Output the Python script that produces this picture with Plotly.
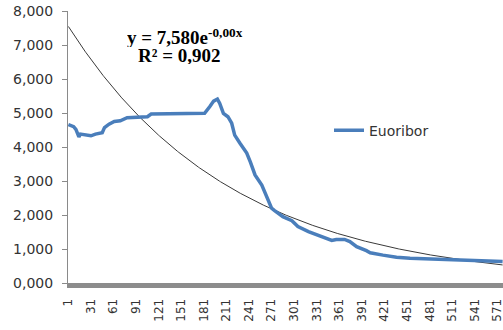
import numpy as np
import plotly.graph_objects as go

# Euribor series (observation number, rate in %)
days = [1, 8, 11, 13, 15, 17, 20, 26, 31, 37, 46, 49, 55, 62, 70, 79, 92, 106, 111, 128,
        152, 182, 189, 194, 199, 202, 207, 213, 218, 222, 229, 238, 243, 249, 258, 265,
        271, 275, 286, 298, 306, 320, 333, 344, 351, 357, 368, 375, 384, 397, 402, 419,
        437, 455, 477, 499, 521, 543, 565, 578]
euribor = [4.66, 4.60, 4.52, 4.42, 4.30, 4.38, 4.37, 4.35, 4.33, 4.38, 4.42, 4.57, 4.67,
           4.75, 4.77, 4.86, 4.88, 4.89, 4.97, 4.98, 4.99, 4.99, 5.19, 5.35, 5.41, 5.29,
           4.99, 4.89, 4.70, 4.35, 4.11, 3.82, 3.55, 3.18, 2.88, 2.49, 2.20, 2.13, 1.95,
           1.83, 1.66, 1.51, 1.41, 1.31, 1.25, 1.28, 1.28, 1.22, 1.07, 0.95, 0.89, 0.82,
           0.76, 0.73, 0.71, 0.70, 0.68, 0.66, 0.65, 0.63]

# Exponential trendline parameters (y = a * e^(-b x))
trend_a = 7.58
trend_b = 0.0046
n_obs = 578

x_ticks = list(range(1, 572, 30))
y_ticks = [0, 1, 2, 3, 4, 5, 6, 7, 8]

trend_x = np.arange(1, n_obs + 1)
trend_y = trend_a * np.exp(-trend_b * trend_x)

W, H = 503, 330
L, T, B = 68, 11, 47
PW, PH = W - L, H - T - B

fig = go.Figure()
fig.add_trace(go.Scatter(x=trend_x, y=trend_y, mode="lines",
                         line=dict(color="#3a3a3a", width=1),
                         showlegend=False, hoverinfo="skip"))
fig.add_trace(go.Scatter(x=days, y=euribor, mode="lines", name="Euoribor",
                         line=dict(color="#4a7ebb", width=3.5)))

fig.update_layout(
    width=W, height=H,
    margin=dict(l=L, r=0, t=T, b=B, autoexpand=False),
    paper_bgcolor="white", plot_bgcolor="white",
    separators=",.",
    font=dict(family="DejaVu Sans", size=13, color="#333333"),
    legend=dict(x=0.6, y=0.56, xanchor="left", yanchor="middle",
                bgcolor="rgba(0,0,0,0)", font=dict(size=14, color="#333333"),
                itemwidth=30),
    xaxis=dict(range=[0.5, n_obs + 0.5], tickmode="array", tickvals=x_ticks,
               ticktext=[str(v) for v in x_ticks], tickangle=-90, automargin=False,
               showgrid=False, zeroline=False, showline=True,
               linecolor="#8c8c8c", linewidth=5, ticks="",
               ticklabelstandoff=6, ticklabeloverflow="allow", tickfont=dict(size=12)),
    yaxis=dict(range=[0, 8], tickmode="array", tickvals=y_ticks, tickformat=".3f",
               automargin=False,
               showgrid=False, zeroline=False, showline=True,
               linecolor="#8a8a8a", linewidth=1, ticks="outside", ticklen=5,
               tickcolor="#8a8a8a", ticklabelstandoff=6, ticklabeloverflow="allow",
               tickfont=dict(size=14)),
)


def px(xw):
    return (xw - L) / PW


def py(yw):
    return (H - B - yw) / PH


fig.add_annotation(xref="paper", yref="paper", x=px(185), y=py(36), height=21,
                   text="<b>y = 7,580e<sup>-0,00x</sup></b>", showarrow=False,
                   xanchor="center", yanchor="middle",
                   font=dict(family="Liberation Serif", size=19, color="black"))
fig.add_annotation(xref="paper", yref="paper", x=px(179), y=py(55.5), height=17,
                   text="<b>R² = 0,902</b>", showarrow=False,
                   xanchor="center", yanchor="middle",
                   font=dict(family="Liberation Serif", size=19, color="black"))

# remove the browser's default page margin so the figure fills the window
fig.write_html("out.html", config={"displayModeBar": False},
               post_script="document.body.style.margin='0';document.body.style.overflow='hidden';")
